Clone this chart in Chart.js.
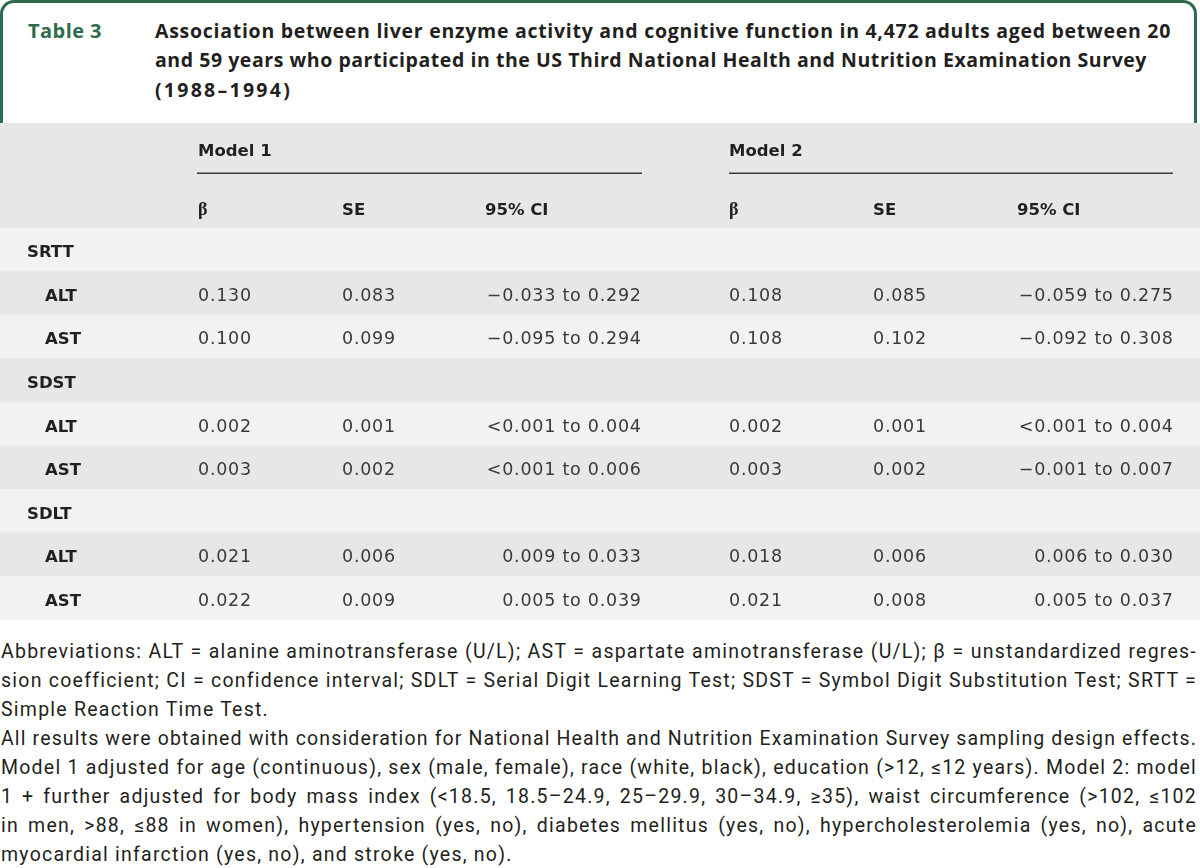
<!DOCTYPE html>
<html>
<head>
<meta charset="utf-8">
<script src="https://cdn.jsdelivr.net/npm/chart.js@4.4.1/dist/chart.umd.min.js"></script>
<style>
  html, body { margin:0; padding:0; background:#fff; width:1200px; height:868px; overflow:hidden; }
  #box { position:absolute; left:0; top:0; width:1191px; height:121px; border:3px solid #2e6b4c; border-bottom:none; border-radius:14px 14px 0 0; box-sizing:content-box; }
  .ln { position:absolute; white-space:nowrap; }
  .lab { color:#2e6b4c; font:700 20px "Open Sans", sans-serif; }
  .ttl { color:#231f20; font:700 19.5px "Open Sans", sans-serif; }
  .fn { color:#231f20; font:400 19.5px Roboto, sans-serif; }
  canvas { position:absolute; left:0; }
</style>
</head>
<body>
<div id="box"></div>
<div id="titleArea"></div>
<canvas id="head" width="1200" height="105" style="top:123px"></canvas>
<canvas id="body" width="1200" height="392" style="top:228px"></canvas>
<div id="notes"></div>
<script>
// ---------------- data ----------------
const tableLabel = 'Table 3';
const titleLines = [
  'Association between liver enzyme activity and cognitive function in 4,472 adults aged between 20',
  'and 59 years who participated in the US Third National Health and Nutrition Examination Survey',
  '(1988–1994)'
];
const modelLabels = ['Model 1', 'Model 2'];
const columnLabels = ['β', 'SE', '95% CI'];
const testGroups = ['SRTT', 'SDST', 'SDLT'];
const enzymes = ['ALT', 'AST'];
// rows in order: SRTT-ALT, SRTT-AST, SDST-ALT, SDST-AST, SDLT-ALT, SDLT-AST
const m1Beta   = [0.130, 0.100, 0.002, 0.003, 0.021, 0.022];
const m1SE     = [0.083, 0.099, 0.001, 0.002, 0.006, 0.009];
const m1CILow  = ['−0.033', '−0.095', '<0.001', '<0.001', '0.009', '0.005'];
const m1CIHigh = [0.292, 0.294, 0.004, 0.006, 0.033, 0.039];
const m2Beta   = [0.108, 0.108, 0.002, 0.003, 0.018, 0.021];
const m2SE     = [0.085, 0.102, 0.001, 0.002, 0.006, 0.008];
const m2CILow  = ['−0.059', '−0.092', '<0.001', '−0.001', '0.006', '0.005'];
const m2CIHigh = [0.275, 0.308, 0.004, 0.007, 0.030, 0.037];
const footnoteLines = [
  'Abbreviations: ALT = alanine aminotransferase (U/L); AST = aspartate aminotransferase (U/L); β = unstandardized regres-',
  'sion coefficient; CI = confidence interval; SDLT = Serial Digit Learning Test; SDST = Symbol Digit Substitution Test; SRTT =',
  'Simple Reaction Time Test.',
  'All results were obtained with consideration for National Health and Nutrition Examination Survey sampling design effects.',
  'Model 1 adjusted for age (continuous), sex (male, female), race (white, black), education (>12, ≤12 years). Model 2: model',
  '1 + further adjusted for body mass index (<18.5, 18.5–24.9, 25–29.9, 30–34.9, ≥35), waist circumference (>102, ≤102',
  'in men, >88, ≤88 in women), hypertension (yes, no), diabetes mellitus (yes, no), hypercholesterolemia (yes, no), acute',
  'myocardial infarction (yes, no), and stroke (yes, no).'
];
const footnoteJustified = [true, true, false, true, true, true, true, false];

// ---------------- layout / style ----------------
const L = {
  tableMin: 0, tableMax: 1200,
  xGroup: 27, xSub: 45,
  m1: { beta: 198, se: 342, ci: 485, ciRight: 641, ruleFrom: 197, ruleTo: 642 },
  m2: { beta: 729, se: 873, ci: 1017, ciRight: 1173, ruleFrom: 729, ruleTo: 1173 },
  dark: '#e6e7e7', light: '#f2f2f2',
  text: '#3a3a3a', textBold: '#231f20',
  valueFont: '400 17.5px "DejaVu Sans", sans-serif',
  boldFont: '700 16.5px "DejaVu Sans", sans-serif',
  betaFont: '700 18px "Liberation Serif", serif',
  ciTargetWidth: 155,          // width of "−0.033 to 0.292" in the reference
  baseShift: 7.5
};

function fmt(v) { return typeof v === 'number' ? v.toFixed(3) : v; }

const bodyRows = [];
testGroups.forEach((g, gi) => {
  bodyRows.push({ kind: 'group', label: g });
  enzymes.forEach((e, ei) => bodyRows.push({ kind: 'data', label: e, idx: gi * enzymes.length + ei }));
});
const headRows = ['models', 'columns'];

function bandChart(canvas, rowKeys, colors, drawFn) {
  return new Chart(canvas, {
    type: 'bar',
    data: {
      labels: rowKeys,
      datasets: [{
        data: rowKeys.map(() => [L.tableMin, L.tableMax]),
        backgroundColor: colors,
        borderWidth: 0,
        barPercentage: 1,
        categoryPercentage: 1
      }]
    },
    options: {
      indexAxis: 'y',
      responsive: false,
      animation: false,
      devicePixelRatio: 1,
      layout: { padding: 0 },
      plugins: { legend: { display: false }, tooltip: { enabled: false } },
      scales: {
        x: { type: 'linear', min: L.tableMin, max: L.tableMax, display: false },
        y: { type: 'category', display: false, offset: true }
      },
      events: []
    },
    plugins: [{ id: 'cells', afterDatasetsDraw: drawFn }]
  });
}

function drawHead(chart) {
  const { ctx, scales: { x, y } } = chart;
  ctx.save();
  ctx.textAlign = 'left';
  ctx.textBaseline = 'alphabetic';
  const models = [L.m1, L.m2];
  const cy0 = y.getPixelForValue(0);
  const cy1 = y.getPixelForValue(1);
  models.forEach((m, mi) => {
    ctx.font = L.boldFont; ctx.fillStyle = L.textBold;
    ctx.fillText(modelLabels[mi], x.getPixelForValue(m.beta), cy0 + 7);
    ctx.strokeStyle = '#3a3a3a'; ctx.lineWidth = 1.5;
    ctx.beginPath();
    ctx.moveTo(x.getPixelForValue(m.ruleFrom), cy0 + 24);
    ctx.lineTo(x.getPixelForValue(m.ruleTo), cy0 + 24);
    ctx.stroke();
    const cols = [m.beta, m.se, m.ci];
    columnLabels.forEach((c, ci) => {
      ctx.font = ci === 0 ? L.betaFont : L.boldFont;
      ctx.fillText(c, x.getPixelForValue(cols[ci]), cy1 + 13);
    });
  });
  ctx.restore();
}

function drawBody(chart) {
  const { ctx, scales: { x, y } } = chart;
  ctx.save();
  ctx.textBaseline = 'alphabetic';
  // letter spacing so value widths match the reference typeface
  ctx.font = L.valueFont;
  const sample = '−0.033 to 0.292';
  const ls = Math.max(0, (L.ciTargetWidth - ctx.measureText(sample).width) / sample.length);
  bodyRows.forEach((r, i) => {
    const by = y.getPixelForValue(i) + L.baseShift;
    ctx.textAlign = 'left';
    if ('letterSpacing' in ctx) ctx.letterSpacing = '0px';
    ctx.font = L.boldFont; ctx.fillStyle = L.textBold;
    if (r.kind === 'group') { ctx.fillText(r.label, x.getPixelForValue(L.xGroup), by); return; }
    ctx.fillText(r.label, x.getPixelForValue(L.xSub), by);
    ctx.font = L.valueFont; ctx.fillStyle = L.text;
    if ('letterSpacing' in ctx) ctx.letterSpacing = ls + 'px';
    const k = r.idx;
    [[L.m1, m1Beta, m1SE, m1CILow, m1CIHigh], [L.m2, m2Beta, m2SE, m2CILow, m2CIHigh]].forEach(([m, b, s, lo, hi]) => {
      ctx.textAlign = 'left';
      ctx.fillText(fmt(b[k]), x.getPixelForValue(m.beta), by);
      ctx.fillText(fmt(s[k]), x.getPixelForValue(m.se), by);
      ctx.textAlign = 'right';
      ctx.fillText(fmt(lo[k]) + ' to ' + fmt(hi[k]), x.getPixelForValue(m.ciRight) + ls, by);
    });
  });
  ctx.restore();
}

// ---------------- HTML text helpers ----------------
function makeLine(parent, cls, text, left) {
  const el = document.createElement('div');
  el.className = 'ln ' + cls;
  el.style.left = left + 'px';
  const s = document.createElement('span'); s.textContent = text;
  const mk = document.createElement('span');
  mk.style.cssText = 'display:inline-block;width:0;height:0;vertical-align:baseline';
  el.append(s, mk);
  parent.appendChild(el);
  el._s = s; el._m = mk;
  return el;
}
function natural(el) { return el._s.getBoundingClientRect().width; }
function fitTo(el, target) {
  el.style.letterSpacing = '0px';
  const w = natural(el);
  const n = el._s.textContent.length;
  el.style.letterSpacing = ((target - w) / n) + 'px';
}
function placeBaseline(el, baseline) {
  el.style.top = '0px';
  const off = el._m.offsetTop;
  el.style.top = (baseline - off) + 'px';
}

function buildText() {
  const ta = document.getElementById('titleArea');
  const lab = makeLine(ta, 'lab', tableLabel, 28);
  fitTo(lab, 74); placeBaseline(lab, 38);
  const tTargets = [1016, 992, 137];
  const tBase = [38, 67, 97];
  titleLines.forEach((t, i) => {
    const el = makeLine(ta, 'ttl', t, 155);
    fitTo(el, tTargets[i]); placeBaseline(el, tBase[i]);
  });

  const nt = document.getElementById('notes');
  const base0 = 658, lh = 29, width = 1196;
  const probe3 = makeLine(nt, 'fn', footnoteLines[2], 1);
  const probe8 = makeLine(nt, 'fn', footnoteLines[7], 1);
  const ls = ((263 - natural(probe3)) / footnoteLines[2].length + (522 - natural(probe8)) / footnoteLines[7].length) / 2;
  probe3.remove(); probe8.remove();
  footnoteLines.forEach((t, i) => {
    const el = makeLine(nt, 'fn', t, 1);
    el.style.letterSpacing = ls + 'px';
    if (footnoteJustified[i]) {
      const w = natural(el);
      if (w > width) el.style.letterSpacing = (ls + (width - w) / t.length) + 'px';
      el.style.width = width + 'px';
      el.style.textAlign = 'justify';
      el.style.textAlignLast = 'justify';
    }
    placeBaseline(el, base0 + i * lh);
  });
}

function start() {
  buildText();
  bandChart(document.getElementById('head'), headRows, headRows.map(() => L.dark), drawHead);
  bandChart(document.getElementById('body'), bodyRows.map((r, i) => i + ':' + r.label),
    bodyRows.map((r, i) => (i % 2 === 0 ? L.light : L.dark)), drawBody);
}
Promise.all([
  document.fonts.load('400 18px "DejaVu Sans"'), document.fonts.load('700 17px "DejaVu Sans"'),
  document.fonts.load('400 19px Roboto'), document.fonts.load('700 20px "Open Sans"'),
  document.fonts.load('700 18px "Liberation Serif"')
]).then(start, start);
</script>
</body>
</html>
